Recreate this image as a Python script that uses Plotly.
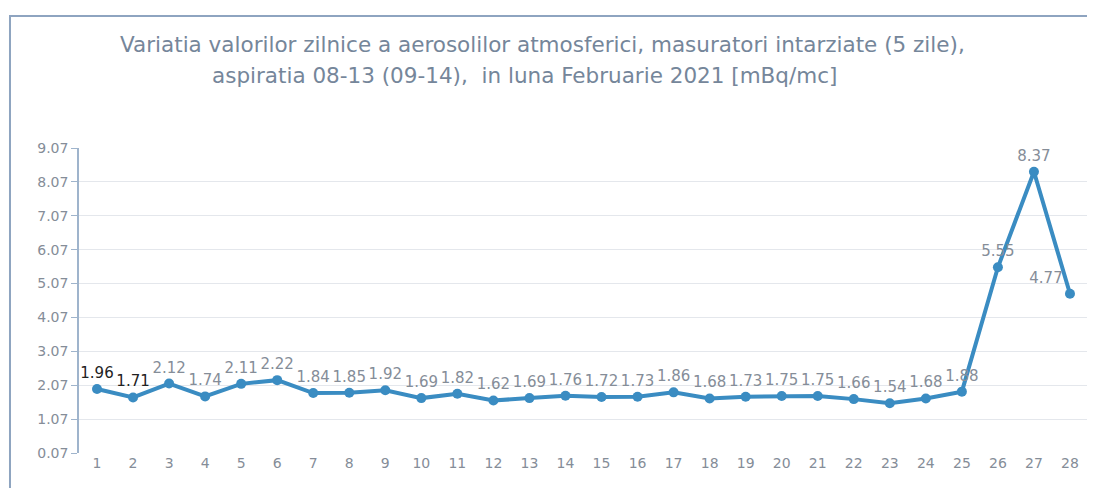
import plotly.graph_objects as go

days = list(range(1, 29))
values = [1.96, 1.71, 2.12, 1.74, 2.11, 2.22, 1.84, 1.85, 1.92, 1.69, 1.82, 1.62, 1.69, 1.76,
          1.72, 1.73, 1.86, 1.68, 1.73, 1.75, 1.75, 1.66, 1.54, 1.68, 1.88, 5.55, 8.37, 4.77]
tick_vals = [0.07, 1.07, 2.07, 3.07, 4.07, 5.07, 6.07, 7.07, 8.07, 9.07]
title_lines = ["Variatia valorilor zilnice a aerosolilor atmosferici, masuratori intarziate (5 zile),",
               "aspiratia 08-13 (09-14),  in luna Februarie 2021 [mBq/mc]"]

FONT = "DejaVu Sans, sans-serif"
label_colors = ["#222222", "#222222"] + ["#858d98"] * (len(values) - 2)
label_pos = ["top center"] * (len(values) - 1) + ["top left"]

fig = go.Figure()
fig.add_trace(go.Scatter(
    x=days, y=values, mode="lines+markers+text",
    line=dict(color="#3a8cc2", width=4),
    marker=dict(color="#3a8cc2", size=10),
    text=[f"{v:.2f}" for v in values],
    textposition=label_pos,
    textfont=dict(family=FONT, size=15, color=label_colors),
    cliponaxis=False,
    hoverinfo="skip",
))

fig.update_layout(
    width=1087, height=480,
    paper_bgcolor="white", plot_bgcolor="white",
    margin=dict(l=71, r=7, t=140, b=35),
    showlegend=False,
    xaxis=dict(range=[0.5, 28.5], tickmode="array", tickvals=days, ticktext=[str(d) for d in days],
               showgrid=False, showline=False, zeroline=False,
               tickfont=dict(family=FONT, size=14, color="#858d98")),
    yaxis=dict(range=[0.07, 9.07], tickmode="array", tickvals=tick_vals,
               ticktext=[f"{t:.2f}" for t in tick_vals],
               showgrid=True, gridcolor="#e4e7ec", gridwidth=1, zeroline=False,
               showline=True, linecolor="#9fb4cc", linewidth=1.5,
               ticks="outside", ticklen=6, tickcolor="#9fb4cc",
               tickfont=dict(family=FONT, size=14, color="#858d98")),
)

title_pos = [(0.459, 1.338), (0.442, 1.239)]
for line, (tx, ty) in zip(title_lines, title_pos):
    fig.add_annotation(text=line, xref="paper", yref="paper", x=tx, y=ty,
                       xanchor="center", yanchor="middle", showarrow=False,
                       font=dict(family=FONT, size=21.5, color="#75869a"))

fig.add_shape(type="rect", xref="paper", yref="paper", x0=-0.0684, x1=1.05, y0=-0.2, y1=1.433,
              line=dict(color="#8ea4c0", width=2), fillcolor="rgba(0,0,0,0)", layer="below")

fig.write_html("out.html")
